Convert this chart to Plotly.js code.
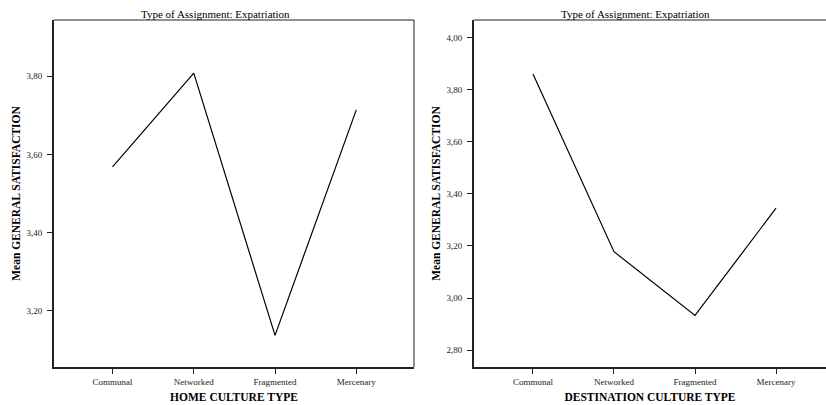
<!DOCTYPE html>
<html>
<head>
<meta charset="utf-8">
<script src="https://cdn.plot.ly/plotly-3.0.1.min.js"></script>
<style>html,body{margin:0;padding:0;background:#fff}#chart{width:826px;height:405px}</style>
</head>
<body>
<div id="chart"></div>
<script>
// Data
const categories = ["Communal", "Networked", "Fragmented", "Mercenary"];
const homeMeans = [3.568, 3.808, 3.137, 3.714];
const destMeans = [3.861, 3.178, 2.933, 3.345];
const panelTitle = "Type of Assignment: Expatriation";
const homeXTitle = "HOME CULTURE TYPE";
const destXTitle = "DESTINATION CULTURE TYPE";
const yTitle = "Mean GENERAL SATISFACTION";

const FONT = "Liberation Serif, Times New Roman, serif";
const W = 826, H = 405;

const traces = [
  {x: categories, y: homeMeans, type: "scatter", mode: "lines",
   line: {color: "#000", width: 1.2}, xaxis: "x", yaxis: "y", showlegend: false, hoverinfo: "x+y"},
  {x: categories, y: destMeans, type: "scatter", mode: "lines",
   line: {color: "#000", width: 1.2}, xaxis: "x2", yaxis: "y2", showlegend: false, hoverinfo: "x+y"}
];

const tickFont = {family: FONT, size: 9, color: "#222"};
const axTitleFont = {family: FONT, size: 11.5, color: "#000", weight: "bold"};

function xa(domain, anchor, title) {
  return {
    domain: domain, anchor: anchor, type: "category",
    range: [-0.72, 3.71],
    showline: true, linecolor: "#222", linewidth: 2,
    ticks: "outside", ticklen: 5, tickwidth: 1, tickcolor: "#222",
    tickfont: tickFont, showgrid: false, zeroline: false,
    title: {text: title, font: axTitleFont, standoff: 7}
  };
}
function ya(anchor, range, tick0) {
  return {
    anchor: anchor, domain: [0, 1], range: range,
    tick0: tick0, dtick: 0.2, tickformat: ".2f",
    showline: true, linecolor: "#222", linewidth: 2,
    ticks: "outside", ticklen: 5, tickwidth: 1, tickcolor: "#222",
    tickfont: tickFont, showgrid: false, zeroline: false,
    ticklabelstandoff: 3,
    title: {text: yTitle, font: axTitleFont, standoff: 3}
  };
}

const x1 = xa([54 / W, 414 / W], "y", homeXTitle);
const x2 = xa([474 / W, 1], "y2", destXTitle);
x2.range = [-0.728, 3.617];

const layout = {
  width: W, height: H,
  margin: {l: 0, r: 0, t: 20, b: 38, pad: 0},
  paper_bgcolor: "#fff", plot_bgcolor: "#fff",
  separators: ",.",
  font: {family: FONT, color: "#000"},
  xaxis: x1,
  yaxis: ya("x", [3.056, 3.944], 3.2),
  xaxis2: x2,
  yaxis2: ya("x2", [2.735, 4.068], 2.8),
  shapes: [
    {type: "line", xref: "x domain", yref: "y domain", x0: 0, x1: 1, y0: 1, y1: 1, line: {color: "#222", width: 1}},
    {type: "line", xref: "x domain", yref: "y domain", x0: 1, x1: 1, y0: 0, y1: 1, line: {color: "#222", width: 1}},
    {type: "line", xref: "x2 domain", yref: "y2 domain", x0: 0, x1: 1, y0: 1, y1: 1, line: {color: "#222", width: 1}}
  ],
  annotations: [
    {text: panelTitle, xref: "paper", yref: "paper", x: 215 / W, y: 1 + 6 / 347,
     xanchor: "center", yanchor: "middle", showarrow: false,
     font: {family: FONT, size: 11, color: "#000"}},
    {text: panelTitle, xref: "paper", yref: "paper", x: 635 / W, y: 1 + 6 / 347,
     xanchor: "center", yanchor: "middle", showarrow: false,
     font: {family: FONT, size: 11, color: "#000"}}
  ]
};

Plotly.newPlot("chart", traces, layout, {displayModeBar: false, staticPlot: true});
</script>
</body>
</html>
